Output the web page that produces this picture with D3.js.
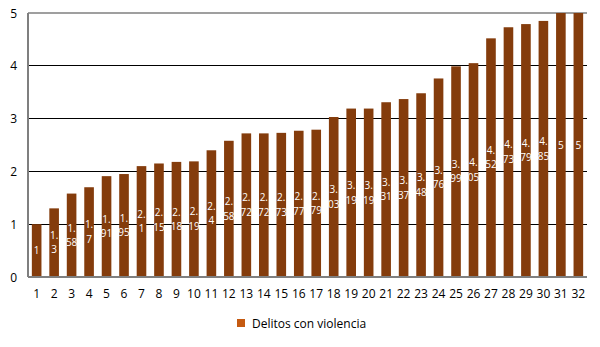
<!DOCTYPE html>
<html><head><meta charset="utf-8">
<script src="https://cdn.jsdelivr.net/npm/d3@7"></script>
<style>body{margin:0;background:#fff}svg{display:block}</style>
</head><body>
<svg id="c" width="600" height="347"></svg>
<script>
const categories = d3.range(1, 33).map(String);
const values = [1.0,1.3,1.58,1.7,1.91,1.95,2.1,2.15,2.18,2.19,2.4,2.58,2.72,2.72,2.73,2.77,2.79,3.03,3.19,3.19,3.31,3.37,3.48,3.76,3.99,4.05,4.52,4.73,4.79,4.85,5,5];
const yTicks = [0,1,2,3,4,5];
const seriesName = "Delitos con violencia";

const svg = d3.select("#c");
const font = "'Open Sans', sans-serif";
const m = {l:28, r:13, t:13, b:70};
const W = 600, H = 347;
const x = d3.scaleBand().domain(categories).range([m.l, W - m.r]).paddingInner(0.45).paddingOuter(0.22);
const y = d3.scaleLinear().domain([0,5]).range([H - m.b, m.t]);

// gridlines
svg.append("g").selectAll("line").data(yTicks.filter(t => t > 0 && t < 5)).join("line")
  .attr("x1", m.l).attr("x2", W - m.r).attr("y1", d => y(d)).attr("y2", d => y(d))
  .attr("stroke", "#000").attr("stroke-width", 1).attr("shape-rendering","crispEdges");
svg.append("line").attr("x1", m.l).attr("x2", W - m.r).attr("y1", y(5)).attr("y2", y(5))
  .attr("stroke", "#7f7f7f").attr("stroke-width", 1.5);

// bars
svg.append("g").selectAll("rect").data(values).join("rect")
  .attr("x", (d,i) => x(categories[i])).attr("width", x.bandwidth())
  .attr("y", d => y(d)).attr("height", d => y(0) - y(d))
  .attr("fill", "#843C0C");

// labels (wrapped into narrow chunks like the original), one text per line
const lines = [];
values.forEach((d, i) => {
  const parts = d3.format("~g")(d).match(/.{1,2}/g);
  const cx = x(categories[i]) + x.bandwidth()/2;
  const cy = (y(d) + y(0))/2;
  const lh = 14.5;
  const y0 = cy - (parts.length - 1) * lh / 2 + 3.5;
  parts.forEach((p, k) => lines.push({t: p, x: cx, y: y0 + k * lh}));
});
svg.append("g").selectAll("text").data(lines).join("text")
  .attr("x", d => d.x).attr("y", d => d.y)
  .attr("text-anchor", "middle").attr("fill", "#fff")
  .attr("font-family", font).attr("font-size", 10)
  .text(d => d.t);

// axes
svg.append("line").attr("x1", m.l).attr("x2", m.l).attr("y1", y(5)).attr("y2", y(0))
  .attr("stroke", "#7f7f7f").attr("stroke-width", 2);
svg.append("line").attr("x1", m.l).attr("x2", W - m.r).attr("y1", y(0)).attr("y2", y(0))
  .attr("stroke", "#7f7f7f").attr("stroke-width", 2);

svg.append("g").selectAll("text").data(yTicks).join("text")
  .attr("x", 17).attr("y", d => y(d) + 4.5).attr("text-anchor", "end")
  .attr("font-family", font).attr("font-size", 12).attr("fill", "#000")
  .text(d => d);

svg.append("g").selectAll("text").data(categories).join("text")
  .attr("x", d => x(d) + x.bandwidth()/2).attr("y", y(0) + 21)
  .attr("text-anchor", "middle").attr("font-family", font).attr("font-size", 12).attr("fill", "#000")
  .text(d => d);

// legend
const lg = svg.append("g").attr("transform", "translate(237,319)");
lg.append("rect").attr("width", 8).attr("height", 8).attr("fill", "#C55A11");
lg.append("text").attr("x", 15).attr("y", 8.5).attr("font-family", font).attr("font-size", 12)
  .attr("fill", "#000").text(seriesName);
</script>
</body></html>
